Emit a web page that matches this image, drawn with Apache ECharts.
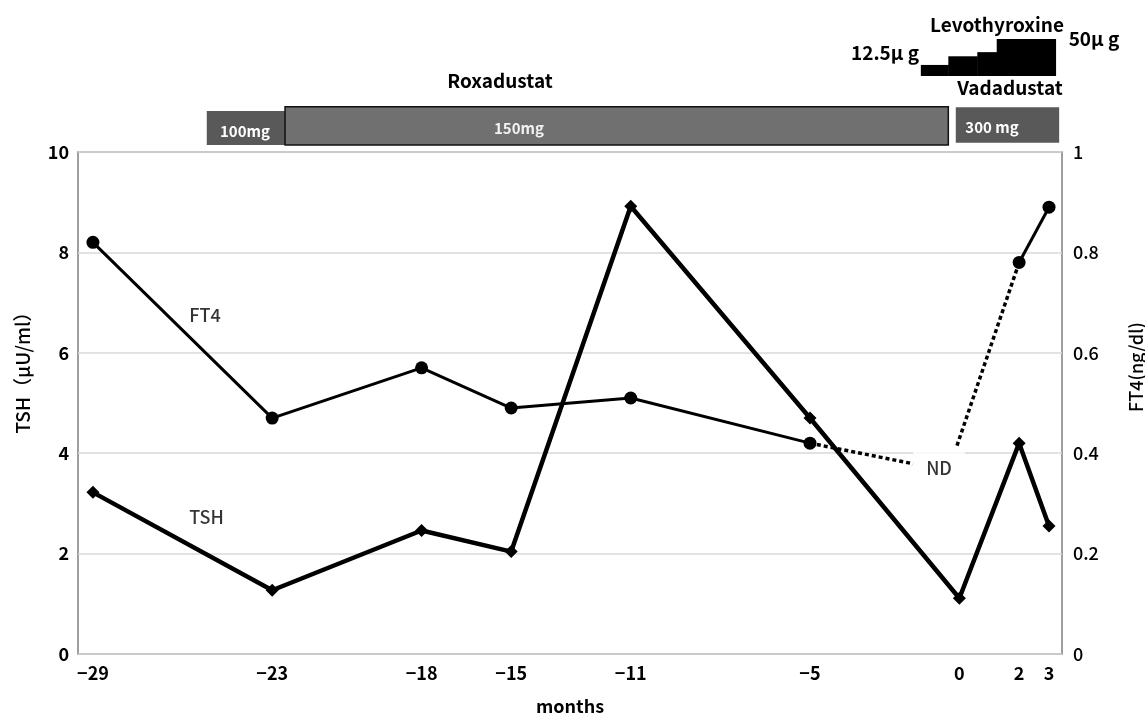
<!DOCTYPE html>
<html>
<head>
<meta charset="utf-8">
<script src="https://cdn.jsdelivr.net/npm/echarts@6/dist/echarts.min.js"></script>
<style>
html,body{margin:0;padding:0;background:#fff;}
#chart{width:1145px;height:714px;}
</style>
</head>
<body>
<div id="chart"></div>
<script>
// ---- data ----
var tickMonths = [-29, -23, -18, -15, -11, -5, 0, 2, 3];
var tshMonths = [-29, -23, -18, -15, -11, -5, 0, 2, 3];
var tshValues = [3.22, 1.27, 2.46, 2.04, 8.92, 4.70, 1.11, 4.20, 2.55];
var ft4Months1 = [-29, -23, -18, -15, -11, -5];
var ft4Values1 = [0.82, 0.47, 0.57, 0.49, 0.51, 0.42];
var ft4Months2 = [2, 3];
var ft4Values2 = [0.78, 0.89];
var ft4DotA = [[-5, 0.42], [-1.55, 0.379]];
var ft4DotB = [[-0.08, 0.415], [2, 0.78]];
var ndPoint = [-0.68, 0.37];
var roxadustat = [
  {dose: '100mg', start: -25.19, end: -22.57},
  {dose: '150mg', start: -22.57, end: -0.37}
];
var vadadustat = [{dose: '300 mg', start: -0.12, end: 3.34}];
var levothyroxine = [
  {start: -1.29, end: -0.37, dose: 12.5},
  {start: -0.37, end: 0.60, dose: 25},
  {start: 0.60, end: 1.25, dose: 31},
  {start: 1.25, end: 3.22, dose: 50}
];

// ---- chart ----
var FONT = '"Noto Sans CJK JP", "Noto Sans", sans-serif';
var XMIN = -29.5, XMAX = 3.435;
function fmtMonth(v) {
  if (tickMonths.indexOf(v) < 0) return '';
  return v < 0 ? '\u2212' + (-v) : String(v);
}
function pair(xs, ys) { return xs.map(function (x, i) { return [x, ys[i]]; }); }

var boxStyle = {
  '100mg': {top: 11, bottom: 45, fill: '#595959', stroke: null},
  '150mg': {top: 6.7, bottom: 45, fill: '#707070', stroke: '#111'},
  '300 mg': {top: 7.3, bottom: 42.7, fill: '#595959', stroke: null}
};
var boxData = roxadustat.concat(vadadustat).map(function (d) {
  var s = boxStyle[d.dose];
  return {value: [d.start, d.end, s.top, s.bottom], itemStyle: {color: s.fill, borderColor: s.stroke}};
});
var levoData = levothyroxine.map(function (d) { return [d.start, d.end, d.dose]; });

var chart = echarts.init(document.getElementById('chart'), null, {renderer: 'canvas'});
var option = {
  animation: false,
  backgroundColor: '#fff',
  textStyle: {fontFamily: FONT},
  grid: [
    {left: 78, right: 83, top: 152, bottom: 60, show: true, borderColor: '#808080', borderWidth: 1.5, backgroundColor: 'transparent', containLabel: false, outerBoundsMode: 'none'},
    {left: 78, right: 83, top: 100, height: 50, containLabel: false, outerBoundsMode: 'none'},
    {left: 78, right: 83, top: 39, height: 37, containLabel: false, outerBoundsMode: 'none'}
  ],
  xAxis: [
    {
      type: 'value', gridIndex: 0, min: XMIN, max: XMAX, interval: 0.5,
      name: 'months', nameLocation: 'middle', nameGap: 43,
      nameTextStyle: {fontSize: 18, fontWeight: 'bold', color: '#000', fontFamily: FONT},
      axisLine: {show: false}, axisTick: {show: false}, splitLine: {show: false},
      axisLabel: {formatter: fmtMonth, fontSize: 18, fontWeight: 'bold', color: '#000', margin: 10, fontFamily: FONT}
    },
    {type: 'value', gridIndex: 1, min: XMIN, max: XMAX, show: false},
    {type: 'value', gridIndex: 2, min: XMIN, max: XMAX, show: false}
  ],
  yAxis: [
    {
      type: 'value', gridIndex: 0, min: 0, max: 10, interval: 2, position: 'left',
      name: 'TSH\uFF08\u03BCU/ml\uFF09', nameLocation: 'middle', nameGap: 46, nameRotate: 90,
      nameTextStyle: {fontSize: 19, fontWeight: 500, color: '#000', fontFamily: FONT, padding: [0, 0, 0, 70]},
      axisLine: {show: false}, axisTick: {show: false},
      splitLine: {show: true, lineStyle: {color: '#d9d9d9', width: 1.5}},
      axisLabel: {fontSize: 18, fontWeight: 'bold', color: '#000', margin: 9, fontFamily: FONT}
    },
    {
      type: 'value', gridIndex: 0, min: 0, max: 1, interval: 0.2, position: 'right',
      name: 'FT4(ng/dl)', nameLocation: 'middle', nameGap: 65, nameRotate: 90,
      nameTextStyle: {fontSize: 18, fontWeight: 500, color: '#000', fontFamily: FONT, padding: [0, 0, 0, 72]},
      axisLine: {show: false}, axisTick: {show: false}, splitLine: {show: false},
      axisLabel: {fontSize: 18, fontWeight: 500, color: '#000', margin: 11, fontFamily: FONT,
        formatter: function (v) { return String(Math.round(v * 10) / 10); }}
    },
    {type: 'value', gridIndex: 1, min: 0, max: 50, inverse: true, show: false},
    {type: 'value', gridIndex: 2, min: -3.5, max: 50, show: false}
  ],
  series: [
    {
      name: 'TSH', type: 'line', xAxisIndex: 0, yAxisIndex: 0, data: pair(tshMonths, tshValues),
      symbol: 'diamond', symbolSize: 13, lineStyle: {color: '#000', width: 4.5}, itemStyle: {color: '#000'}, z: 5
    },
    {
      name: 'FT4', type: 'line', xAxisIndex: 0, yAxisIndex: 1, data: pair(ft4Months1, ft4Values1),
      symbol: 'circle', symbolSize: 13, lineStyle: {color: '#000', width: 3}, itemStyle: {color: '#000'}, z: 5
    },
    {
      name: 'FT4b', type: 'line', xAxisIndex: 0, yAxisIndex: 1, data: pair(ft4Months2, ft4Values2),
      symbol: 'circle', symbolSize: 13, lineStyle: {color: '#000', width: 3}, itemStyle: {color: '#000'}, z: 5
    },
    {
      name: 'FT4dotA', type: 'line', xAxisIndex: 0, yAxisIndex: 1, data: ft4DotA, showSymbol: false, symbol: 'none',
      lineStyle: {color: '#000', width: 3.5, type: [4, 3], cap: 'butt'}, z: 4
    },
    {
      name: 'FT4dotB', type: 'line', xAxisIndex: 0, yAxisIndex: 1, data: ft4DotB, showSymbol: false, symbol: 'none',
      lineStyle: {color: '#000', width: 3.5, type: [4, 3], cap: 'butt'}, z: 4
    },
    {
      name: 'labels', type: 'scatter', xAxisIndex: 0, yAxisIndex: 0, symbolSize: 0, silent: true, z: 6,
      data: [
        {value: [-25.25, 6.75], label: {formatter: 'FT4'}},
        {value: [-25.2, 2.73], label: {formatter: 'TSH'}}
      ],
      label: {show: true, position: 'inside', fontSize: 18, fontWeight: 500, color: '#000', fontFamily: FONT}
    },
    {
      name: 'ND', type: 'scatter', xAxisIndex: 0, yAxisIndex: 1, symbolSize: 0, silent: true, z: 3,
      data: [ndPoint],
      label: {show: true, position: 'inside', formatter: 'ND', fontSize: 18, fontWeight: 500, color: '#000', fontFamily: FONT,
        backgroundColor: '#fff', padding: [8, 13, 10, 13]}
    },
    {
      name: 'boxes', type: 'custom', xAxisIndex: 1, yAxisIndex: 2, data: boxData,
      renderItem: function (params, api) {
        var p1 = api.coord([api.value(0), api.value(2)]);
        var p2 = api.coord([api.value(1), api.value(3)]);
        var item = boxData[params.dataIndex].itemStyle;
        return {
          type: 'rect',
          shape: {x: p1[0], y: p1[1], width: p2[0] - p1[0], height: p2[1] - p1[1]},
          style: {fill: item.color, stroke: item.borderColor || null, lineWidth: item.borderColor ? 1.5 : 0}
        };
      }
    },
    {
      name: 'levo', type: 'custom', xAxisIndex: 2, yAxisIndex: 3, data: levoData,
      renderItem: function (params, api) {
        var p1 = api.coord([api.value(0), api.value(2)]);
        var p2 = api.coord([api.value(1), -3.5]);
        return {
          type: 'rect',
          shape: {x: p1[0], y: p1[1], width: p2[0] - p1[0] + 0.5, height: p2[1] - p1[1]},
          style: {fill: '#000'}
        };
      }
    }
  ],
  graphic: [
    {type: 'text', x: 500, y: 81, style: {text: 'Roxadustat', font: 'bold 19px ' + FONT, fill: '#000', align: 'center', verticalAlign: 'middle'}},
    {type: 'text', x: 245, y: 131, style: {text: '100mg', font: 'bold 15px ' + FONT, fill: '#fff', align: 'center', verticalAlign: 'middle'}, z: 10},
    {type: 'text', x: 519, y: 128, style: {text: '150mg', font: 'bold 15px ' + FONT, fill: '#f2f2f2', align: 'center', verticalAlign: 'middle'}, z: 10},
    {type: 'text', x: 992, y: 127, style: {text: '300 mg', font: 'bold 15px ' + FONT, fill: '#fff', align: 'center', verticalAlign: 'middle'}, z: 10},
    {type: 'text', x: 997, y: 25, style: {text: 'Levothyroxine', font: 'bold 19px ' + FONT, fill: '#000', align: 'center', verticalAlign: 'middle'}},
    {type: 'text', x: 885, y: 53, style: {text: '12.5\u03BC g', font: 'bold 19px ' + FONT, fill: '#000', align: 'center', verticalAlign: 'middle'}},
    {type: 'text', x: 1094, y: 39, style: {text: '50\u03BC g', font: 'bold 19px ' + FONT, fill: '#000', align: 'center', verticalAlign: 'middle'}},
    {type: 'text', x: 1010, y: 88, style: {text: 'Vadadustat', font: 'bold 19px ' + FONT, fill: '#000', align: 'center', verticalAlign: 'middle'}}
  ]
};
chart.setOption(option);
</script>
</body>
</html>
